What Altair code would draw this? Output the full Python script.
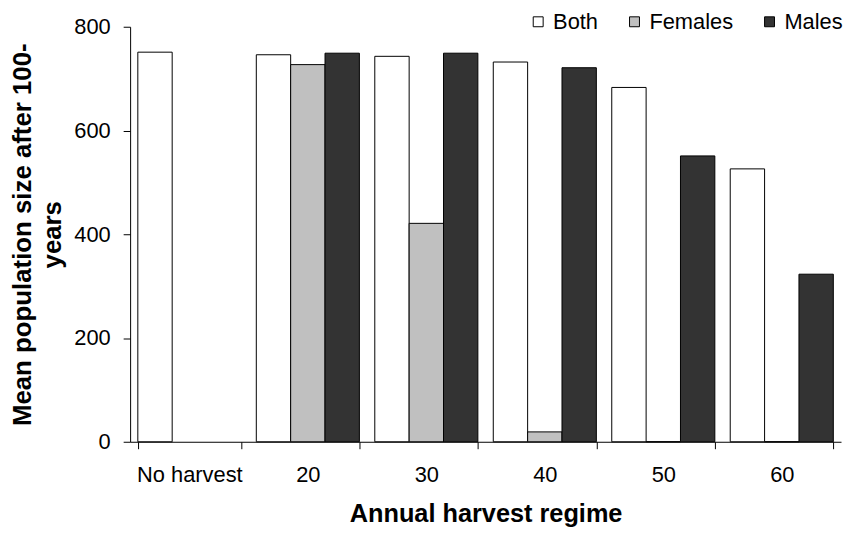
import altair as alt
import pandas as pd

categories = ["No harvest", "20", "30", "40", "50", "60"]
series = ["Both", "Females", "Males"]
both = [751, 746, 743, 732, 683, 526]
females = [None, 727, 421, 19, 0, 0]
males = [None, 749, 749, 721, 551, 323]
colors = ["#ffffff", "#c0c0c0", "#333333"]
y_ticks = [0, 200, 400, 600, 800]

rows = []
for i, c in enumerate(categories):
    for s, vals in zip(series, [both, females, males]):
        v = vals[i]
        if v is not None:
            rows.append({"regime": c, "sex": s, "value": v})
df = pd.DataFrame(rows)

FONT = "Liberation Sans"

chart = alt.Chart(df).mark_bar(stroke="black", strokeWidth=1).encode(
    x=alt.X(
        "regime:N",
        sort=categories,
        scale=alt.Scale(paddingInner=0.13, paddingOuter=0.065),
        axis=alt.Axis(
            title="Annual harvest regime",
            labelAngle=0,
            tickBand="extent",
            tickSize=7,
            labelPadding=16,
            labelFontSize=22,
            labelFont=FONT,
            labelColor="black",
            domainColor="black",
            tickColor="black",
            titleFont=FONT,
            titleFontSize=25.5,
            titleFontWeight="bold",
            titleColor="black",
            titleBaseline="alphabetic",
            titleY=80,
        ),
    ),
    xOffset=alt.XOffset("sex:N", sort=series, scale=alt.Scale(paddingInner=0, paddingOuter=0)),
    y=alt.Y(
        "value:Q",
        scale=alt.Scale(domain=[0, 800], nice=False),
        axis=alt.Axis(
            values=y_ticks,
            grid=False,
            tickSize=7,
            labelPadding=13,
            labelFontSize=22,
            labelFont=FONT,
            labelColor="black",
            domainColor="black",
            tickColor="black",
            title=["Mean population size after 100-", "years"],
            titleFont=FONT,
            titleFontSize=26,
            titleFontWeight="bold",
            titleColor="black",
            titleAngle=270,
            titleAlign="center",
            titleBaseline="middle",
            titleLineHeight=30,
            titleX=-108,
            titleY=209,
        ),
    ),
    color=alt.Color(
        "sex:N",
        sort=series,
        scale=alt.Scale(domain=series, range=colors),
        legend=alt.Legend(
            title=None,
            orient="none",
            direction="horizontal",
            legendX=400,
            legendY=-16,
            symbolType="square",
            symbolSize=100,
            symbolStrokeColor="black",
            symbolStrokeWidth=1,
            symbolOpacity=1,
            labelFont=FONT,
            labelFontSize=22,
            labelColor="black",
            labelOffset=4,
            columnPadding=25,
            padding=0,
        ),
    ),
).properties(
    width=716,
    height=418,
    autosize=alt.AutoSizeParams(type="none"),
    padding={"left": 123, "top": 17, "right": 2, "bottom": 88},
).configure_view(stroke=None)

chart.save("out.html", embed_options={"renderer": "svg", "actions": False})
